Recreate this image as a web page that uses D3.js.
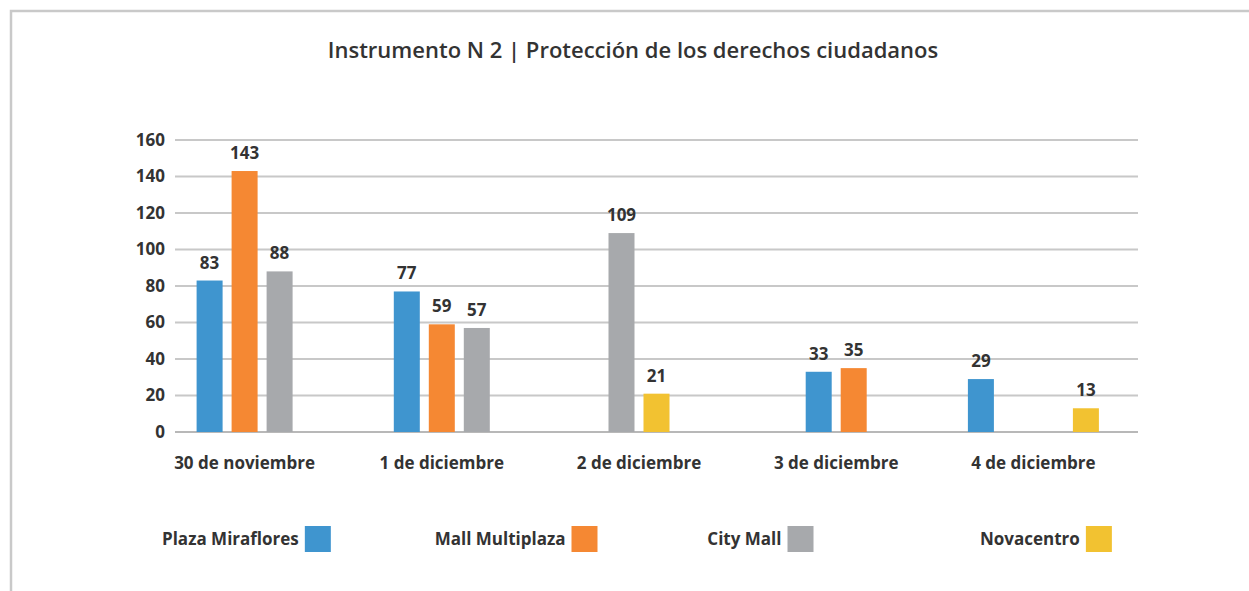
<!DOCTYPE html>
<html>
<head>
<meta charset="utf-8">
<script src="https://cdn.jsdelivr.net/npm/d3@7"></script>
<style>
  body { margin: 0; background: #fff; }
  svg { display: block; font-family: "Open Sans", sans-serif; }
  .grid line { stroke: #c8c8c8; stroke-width: 2; }
  .lbl { fill: #333; font-weight: 700; }
</style>
</head>
<body>
<div id="chart"></div>
<script>
// data
var days = ["30 de noviembre", "1 de diciembre", "2 de diciembre", "3 de diciembre", "4 de diciembre"];
var malls = ["Plaza Miraflores", "Mall Multiplaza", "City Mall", "Novacentro"];
var colors = ["#3f95cf", "#f58833", "#a7a9ac", "#f2c231"];
// one row per mall, null = no bar that day
var plazaMiraflores = [83, 77, null, 33, 29];
var mallMultiplaza = [143, 59, null, 35, null];
var cityMall = [88, 57, 109, null, null];
var novacentro = [null, null, 21, null, 13];
var yTicks = [0, 20, 40, 60, 80, 100, 120, 140, 160];

var series = [plazaMiraflores, mallMultiplaza, cityMall, novacentro];

var width = 1249, height = 591;
var svg = d3.select("#chart").append("svg")
    .attr("width", width)
    .attr("height", height);

// frame
svg.append("path")
    .attr("d", "M11,591 V11 H1249")
    .attr("fill", "none")
    .attr("stroke", "#c9c9c9")
    .attr("stroke-width", 2.5);

svg.append("text")
    .attr("class", "lbl")
    .attr("x", 633)
    .attr("y", 58)
    .attr("text-anchor", "middle")
    .style("font-size", "22px")
    .style("font-weight", 600)
    .text("Instrumento N 2 | Protección de los derechos ciudadanos");

var y = d3.scaleLinear().domain([0, 160]).range([432, 140]);
var x = d3.scaleBand().domain(days).range([146, 1132]);

// gridlines
var grid = svg.append("g").attr("class", "grid");
grid.selectAll("line")
    .data(yTicks)
    .enter()
    .append("line")
    .attr("x1", 175)
    .attr("x2", 1138)
    .attr("y1", function(d){ return y(d); })
    .attr("y2", function(d){ return y(d); })
    .style("stroke", function(d){ return d == 0 ? "#b8b8b8" : null; });

svg.selectAll("text.ytick")
    .data(yTicks)
    .enter()
    .append("text")
    .attr("class", "lbl ytick")
    .attr("x", 165)
    .attr("y", function(d){ return y(d); })
    .attr("dy", "0.35em")
    .attr("text-anchor", "end")
    .style("font-size", "17px")
    .text(function(d){ return d; });

// bars: in each day the slots run from the first to the last mall that has a value
var slot = 35, barW = 26;
var bars = [];
days.forEach(function(day, i){
    var present = [];
    series.forEach(function(s, j){ if (s[i] != null) present.push(j); });
    var first = present[0], last = present[present.length - 1];
    var mid = (first + last) / 2;
    present.forEach(function(j){
        bars.push({day: day, mall: j, value: series[j][i],
                   cx: x(day) + x.bandwidth() / 2 + (j - mid) * slot});
    });
});

svg.selectAll("rect.bar")
    .data(bars)
    .enter()
    .append("rect")
    .attr("class", "bar")
    .attr("x", function(d){ return d.cx - barW / 2; })
    .attr("width", barW)
    .attr("y", function(d){ return y(d.value); })
    .attr("height", function(d){ return y(0) - y(d.value); })
    .attr("fill", function(d){ return colors[d.mall]; });

svg.selectAll("text.val")
    .data(bars)
    .enter()
    .append("text")
    .attr("class", "lbl val")
    .attr("x", function(d){ return d.cx; })
    .attr("y", function(d){ return y(d.value) - 12; })
    .attr("text-anchor", "middle")
    .style("font-size", "17px")
    .text(function(d){ return d.value; });

svg.selectAll("text.day")
    .data(days)
    .enter()
    .append("text")
    .attr("class", "lbl day")
    .attr("x", function(d){ return x(d) + x.bandwidth() / 2; })
    .attr("y", 469)
    .attr("text-anchor", "middle")
    .style("font-size", "17px")
    .text(function(d){ return d; });

// legend: label first, swatch after it
var lx = d3.scalePoint().domain(malls).range([162, 980]);
var leg = svg.selectAll("g.leg")
    .data(malls)
    .enter()
    .append("g")
    .attr("class", "leg")
    .attr("transform", function(d){ return "translate(" + lx(d) + ",539)"; });

leg.append("text")
    .attr("class", "lbl")
    .attr("y", 0)
    .attr("dy", "0.35em")
    .style("font-size", "17px")
    .text(function(d){ return d; });

leg.append("rect")
    .attr("x", function(){ return this.parentNode.querySelector("text").getComputedTextLength() + 6; })
    .attr("y", -13)
    .attr("width", 26)
    .attr("height", 26)
    .attr("fill", function(d, i){ return colors[i]; });
</script>
</body>
</html>
